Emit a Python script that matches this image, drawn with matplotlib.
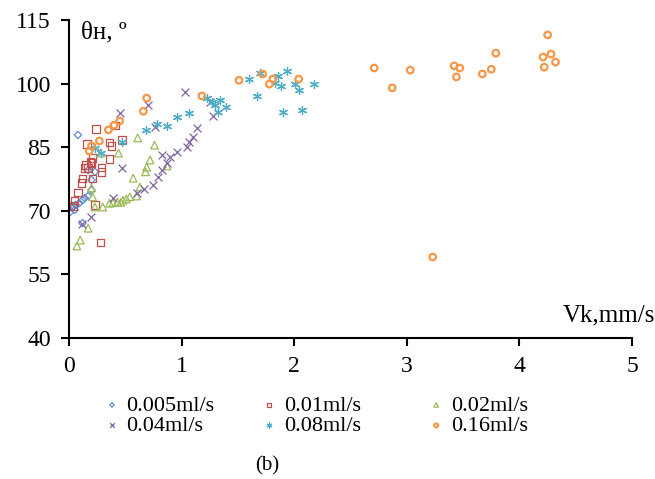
import matplotlib.pyplot as plt

plt.rcParams['font.family'] = ['Liberation Serif', 'DejaVu Serif']

# 0.005 ml/s
x_005 = [0.08, 0.03, 0.04, 0.06, 0.09, 0.12, 0.14, 0.17, 0.20, 0.20, 0.17, 0.12, 0.23, 0.01, 0.05]
y_005 = [87.9, 70.7, 71.1, 71.4, 71.8, 72.5, 73.0, 73.5, 74.9, 77.3, 79.6, 67.1, 79.2, 69.7, 70.2]
# 0.01 ml/s
x_01 = [0.04, 0.05, 0.08, 0.11, 0.12, 0.14, 0.15, 0.17, 0.19, 0.21, 0.20, 0.21, 0.29, 0.29,
        0.36, 0.24, 0.16, 0.36, 0.38, 0.41, 0.47, 0.23, 0.28]
y_01 = [71.1, 72.5, 74.4, 76.6, 77.7, 80.1, 80.8, 80.1, 81.5, 82.5, 81.3, 77.7, 80.3, 79.2,
        82.2, 89.3, 85.8, 86.2, 85.3, 90.2, 86.7, 71.4, 62.6]
# 0.02 ml/s
x_02 = [0.07, 0.10, 0.17, 0.20, 0.21, 0.23, 0.30, 0.36, 0.43, 0.48, 0.54, 0.60, 0.63, 0.57,
        0.68, 0.69, 0.72, 0.87, 0.76, 0.61, 0.44, 0.28, 0.39, 0.46, 0.51]
y_02 = [61.7, 63.1, 65.9, 75.4, 73.3, 70.9, 70.9, 71.8, 72.1, 72.5, 73.3, 73.5, 75.6, 77.7,
        79.2, 80.3, 82.0, 80.6, 85.5, 87.2, 83.6, 83.6, 71.9, 72.0, 72.8]
# 0.04 ml/s
x_04 = [0.12, 0.20, 0.39, 0.47, 0.60, 0.67, 0.75, 0.79, 0.83, 0.87, 0.83, 0.90, 0.96, 1.05,
        1.07, 1.10, 1.14, 0.76, 0.70, 1.03, 1.28, 1.25, 0.45]
y_04 = [66.9, 68.5, 73.0, 80.1, 74.2, 75.1, 76.1, 78.0, 79.6, 81.3, 83.2, 82.7, 83.9, 85.0,
        86.2, 87.4, 89.5, 89.8, 95.0, 98.0, 92.4, 95.7, 93.1]
# 0.08 ml/s
x_08 = [0.28, 0.47, 0.68, 0.78, 0.87, 0.96, 1.07, 1.23, 1.27, 1.34, 1.39, 1.32, 1.30, 1.60,
        1.70, 1.67, 1.83, 1.86, 1.88, 1.94, 2.01, 2.04, 2.18, 1.90, 2.07, 0.23]
y_08 = [83.6, 86.2, 89.1, 90.5, 90.0, 92.1, 93.1, 96.6, 95.7, 96.1, 94.5, 93.3, 95.0, 101.1,
        102.5, 97.1, 100.1, 101.8, 99.4, 103.0, 99.9, 98.5, 99.9, 93.3, 93.8, 84.8]
# 0.16 ml/s
x_16 = [0.18, 0.20, 0.27, 0.35, 0.40, 0.45, 0.66, 0.69, 1.18, 1.51, 1.72, 1.81, 1.78, 2.04,
        2.71, 2.87, 3.03, 3.42, 3.47, 3.44, 3.23, 3.67, 3.75, 3.79, 4.25, 4.21, 4.28, 4.32, 4.22]
y_16 = [84.1, 85.3, 86.5, 89.1, 90.2, 91.2, 93.5, 96.6, 97.1, 100.8, 102.3, 101.1, 99.9, 101.1,
        103.7, 99.0, 103.2, 104.2, 103.7, 101.6, 59.1, 102.3, 103.4, 107.2, 111.5, 106.3, 107.0,
        105.1, 103.9]

labels = ['0.005ml/s', '0.01ml/s', '0.02ml/s', '0.04ml/s', '0.08ml/s', '0.16ml/s']

fig = plt.figure(figsize=(6.55, 4.79), dpi=100)
ax = fig.add_axes([0.1053, 0.2944, 0.8597, 0.6636])

h1 = ax.scatter(x_005, y_005, marker='D', s=14, facecolors='none', edgecolors='#5B8BD0', linewidths=0.9)
h2 = ax.scatter(x_01, y_01, marker='s', s=28, facecolors='none', edgecolors='#C0504D', linewidths=0.9)
h3 = ax.scatter(x_02, y_02, marker='^', s=30, facecolors='none', edgecolors='#9BBB59', linewidths=0.9)
h4 = ax.scatter(x_04, y_04, marker='x', s=32, color='#8064A2', linewidths=0.9)
h5 = ax.scatter(x_08, y_08, marker=(6, 2, 0), s=34, color='#4BACC6', linewidths=0.9)
h6 = ax.scatter(x_16, y_16, marker='o', s=22, facecolors='none', edgecolors='#F79646', linewidths=1.6)

ax.set_xlim(0, 5)
ax.set_ylim(40, 115)
ax.set_xticks([0, 1, 2, 3, 4, 5])
ax.set_yticks([40, 55, 70, 85, 100, 115])
for s in ['top', 'right']:
    ax.spines[s].set_visible(False)
for s in ['left', 'bottom']:
    ax.spines[s].set_linewidth(1.5)
ax.tick_params(direction='out', length=6, width=1.5, labelsize=17, pad=7)

ax.text(0.022, 0.995, 'θн, º', transform=ax.transAxes, fontsize=18, va='top', ha='left')
ax.text(1.04, 0.035, 'Vk,mm/s', transform=ax.transAxes, fontsize=18, va='bottom', ha='right')

# three legend columns at fixed positions, as in the original
cols = [([h1, h4], [labels[0], labels[3]], 0.154),
        ([h2, h5], [labels[1], labels[4]], 0.394),
        ([h3, h6], [labels[2], labels[5]], 0.649)]
for hs, ls, x0 in cols:
    fig.legend(hs, ls, loc='upper left', bbox_to_anchor=(x0, 0.175), frameon=False,
               fontsize=16, handletextpad=0.15, labelspacing=0.0, markerscale=0.6,
               handlelength=1.0, borderpad=0, borderaxespad=0)

fig.text(0.408, 0.008, '(b)', fontsize=15, ha='center', va='bottom')

fig.savefig('out.png', dpi=100)
